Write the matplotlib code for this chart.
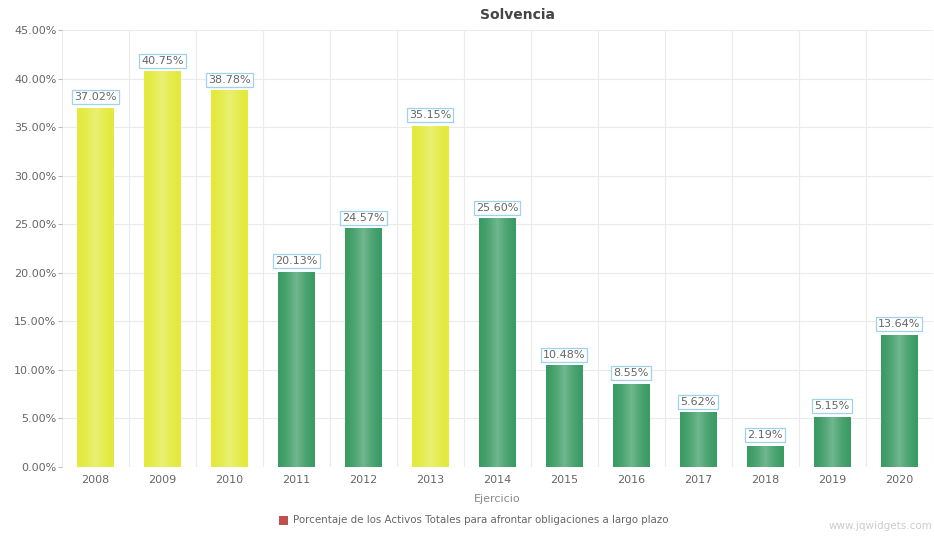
import matplotlib
matplotlib.use("Agg")
import matplotlib.pyplot as plt
import numpy as np
from matplotlib.patches import Rectangle

years = ["2008", "2009", "2010", "2011", "2012", "2013", "2014",
         "2015", "2016", "2017", "2018", "2019", "2020"]
values = [37.02, 40.75, 38.78, 20.13, 24.57, 35.15, 25.60,
          10.48, 8.55, 5.62, 2.19, 5.15, 13.64]
is_yellow = [True, True, True, False, False, True, False,
             False, False, False, False, False, False]
yticks = [0, 5, 10, 15, 20, 25, 30, 35, 40, 45]

YELLOW = "#e2ea3c"
GREEN = "#3a9b64"
TXT = "#666666"

fig = plt.figure(figsize=(9.34, 5.37), dpi=100)
ax = fig.add_axes([0.0664, 0.1304, 0.932, 0.8136])
x = np.arange(len(years))
colors = [YELLOW if y else GREEN for y in is_yellow]
bars = ax.bar(x, values, width=0.54, color=colors, zorder=2, linewidth=0)

# horizontal shading: lighter centre, like the original widget
for b, c in zip(bars, colors):
    rgb = np.array(matplotlib.colors.to_rgb(c))
    t = np.linspace(-1, 1, 64)
    light = (1 - np.abs(t)) ** 1.5
    grad = rgb[None, :] + (1 - rgb[None, :]) * 0.28 * light[:, None]
    img = np.clip(grad, 0, 1)[None, :, :]
    bx, bw, bh = b.get_x(), b.get_width(), b.get_height()
    im = ax.imshow(img, extent=[bx, bx + bw, 0, bh], aspect="auto", zorder=2.1, origin="lower")
    im.set_clip_path(b)

ax.set_xlim(-0.5, len(years) - 0.5)
ax.set_ylim(0, 45)
ax.set_yticks(yticks)
ax.set_yticklabels([f"{v:.2f}%" for v in yticks])
ax.set_xticks(x)
ax.set_xticklabels(years)

for v in yticks:
    ax.axhline(v, color="#ebebeb", lw=0.8, zorder=0)
for b in np.arange(-0.5, len(years), 1.0):
    ax.axvline(b, color="#ebebeb", lw=0.8, zorder=0)

for s in ax.spines.values():
    s.set_visible(False)
ax.tick_params(axis="y", length=3, color="#bbbbbb", labelsize=8, labelcolor=TXT, pad=1)
ax.tick_params(axis="x", length=0, labelsize=8, labelcolor=TXT, pad=6)

for xi, v in zip(x, values):
    ax.annotate(f"{v:.2f}%", (xi, v), xytext=(0, 4), textcoords="offset points",
                ha="center", va="bottom", fontsize=8, color=TXT,
                bbox=dict(boxstyle="square,pad=0.18", fc="white", ec="#9fd3ec", lw=0.9),
                zorder=5)

ax.set_xlabel("Ejercicio", fontsize=8, color="#888888", labelpad=6)
fig.text(0.5546, 0.972, "Solvencia", fontsize=10, fontweight="bold", color="#444444",
         ha="center", va="center")

# legend
fig.patches.append(Rectangle((0.2985, 0.022), 0.010, 0.018, transform=fig.transFigure,
                             fc="#c0504d", ec="none"))
fig.text(0.3135, 0.031, "Porcentaje de los Activos Totales para afrontar obligaciones a largo plazo",
         fontsize=7.4, color=TXT, va="center", ha="left")
fig.text(0.998, 0.012, "www.jqwidgets.com", fontsize=7.5, color="#cccccc", ha="right", va="bottom")

fig.savefig("out.png", dpi=100)
